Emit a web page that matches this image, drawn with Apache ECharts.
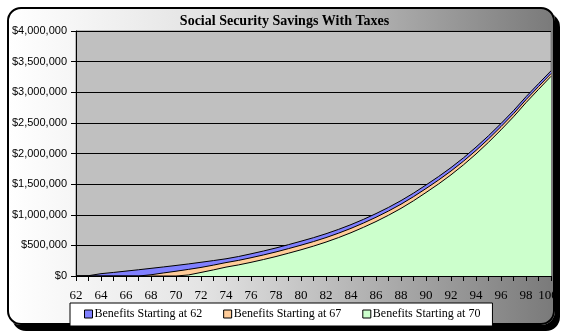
<!DOCTYPE html>
<html>
<head>
<meta charset="utf-8">
<script src="https://cdn.jsdelivr.net/npm/echarts@6/dist/echarts.min.js"></script>
<style>
html,body{margin:0;padding:0;background:#fff;}
#wrap{position:relative;width:569px;height:336px;overflow:hidden;}
#frame{position:absolute;left:7px;top:7px;width:544px;height:314px;border:2px solid #000;border-radius:14px;
  background:linear-gradient(to right,#ffffff 0%,#e4e4e4 35%,#7a7a7a 100%);box-shadow:5px 6px 0 #000;}
#chart{position:absolute;left:0;top:0;width:569px;height:336px;}
</style>
</head>
<body>
<div id="wrap"><div id="frame"></div><div id="chart"></div></div>
<script>
// Ages (x axis categories)
const ages = [62,63,64,65,66,67,68,69,70,71,72,73,74,75,76,77,78,79,80,81,82,83,84,85,86,87,88,89,90,91,92,93,94,95,96,97,98,99,100];
// Savings values (dollars, in thousands)
const start62 = [0,5,38,58,80,102,125,148,172,197,224,252,281,318,362,408,458,512,568,626,690,761,839,925,1019,1120,1231,1353,1486,1623,1770,1930,2104,2290,2490,2700,2927,3140,3350];
const start67 = [0,0,0,0,0,0,20,50,78,108,140,178,219,255,298,344,393,447,503,562,627,699,778,865,959,1061,1172,1295,1428,1566,1714,1875,2050,2238,2439,2650,2879,3093,3305];
const start70 = [0,0,0,0,0,0,0,0,0,17,58,100,145,181,223,269,318,372,428,488,554,627,707,795,889,992,1104,1228,1363,1502,1652,1815,1992,2183,2386,2599,2830,3046,3260];
const seriesNames = ['Benefits Starting at 62','Benefits Starting at 67','Benefits Starting at 70'];

const colors = ['#8080ff','#ffcc99','#ccffcc'];
const toDollars = a => a.map(v => v * 1000);
const datasets = [toDollars(start62), toDollars(start67), toDollars(start70)];

const chart = echarts.init(document.getElementById('chart'), null, {renderer:'canvas'});
const serif = '"Liberation Serif", "Times New Roman", serif';
const sans = '"Liberation Sans", Arial, sans-serif';
const lastAge = ages[ages.length - 1];

const option = {
  animation: false,
  backgroundColor: 'transparent',
  title: {
    text: 'Social Security Savings With Taxes',
    left: 'center', top: 9,
    textStyle: { fontFamily: serif, fontWeight: 'bold', fontSize: 14, color: '#000' }
  },
  legend: {
    data: seriesNames,
    left: 70, top: 303,
    backgroundColor: '#fff',
    borderColor: '#000', borderWidth: 1,
    padding: [5, 12, 6, 14],
    itemGap: 21,
    itemWidth: 8, itemHeight: 8,
    icon: 'rect',
    itemStyle: { borderColor: '#000', borderWidth: 1 },
    textStyle: { fontFamily: serif, fontSize: 12, color: '#000', padding:[0,0,0,-3] }
  },
  grid: {
    left: 76, right: 18, top: 31, bottom: 60,
    show: true, backgroundColor: '#c0c0c0', borderColor: '#808080', borderWidth: 1
  },
  xAxis: {
    type: 'category',
    data: ages,
    boundaryGap: false,
    axisLine: { lineStyle: { color: '#000', width: 1 } },
    axisTick: { show: true, interval: 0, length: 5, lineStyle: { color: '#000' } },
    axisLabel: {
      interval: 1, margin: 13, fontFamily: serif, fontSize: 13, color: '#000',
      formatter: v => (Number(v) === lastAge ? '{r|' + v + '}' : String(v)),
      rich: { r: { fontFamily: serif, fontSize: 13, color: '#000', padding: [0, 6, 0, 0] } }
    },
    splitLine: { show: false }
  },
  yAxis: {
    type: 'value',
    min: 0, max: 4000000, interval: 500000,
    axisLine: { show: true, lineStyle: { color: '#000', width: 1 } },
    axisTick: { show: true, length: 5, lineStyle: { color: '#000' } },
    axisLabel: {
      margin: 9, fontFamily: sans, fontSize: 11, color: '#000',
      formatter: v => '$' + v.toLocaleString('en-US')
    },
    splitLine: { show: true, lineStyle: { color: '#000', width: 1 } }
  },
  series: datasets.map((d, i) => ({
    name: seriesNames[i],
    type: 'line',
    data: d,
    showSymbol: false,
    symbol: 'none',
    color: colors[i],
    lineStyle: { color: '#000', width: 1 },
    areaStyle: { color: colors[i], opacity: 1 },
    itemStyle: { color: colors[i], borderColor: '#000', borderWidth: 1 },
    z: 2 + i
  }))
};
chart.setOption(option);
</script>
</body>
</html>
